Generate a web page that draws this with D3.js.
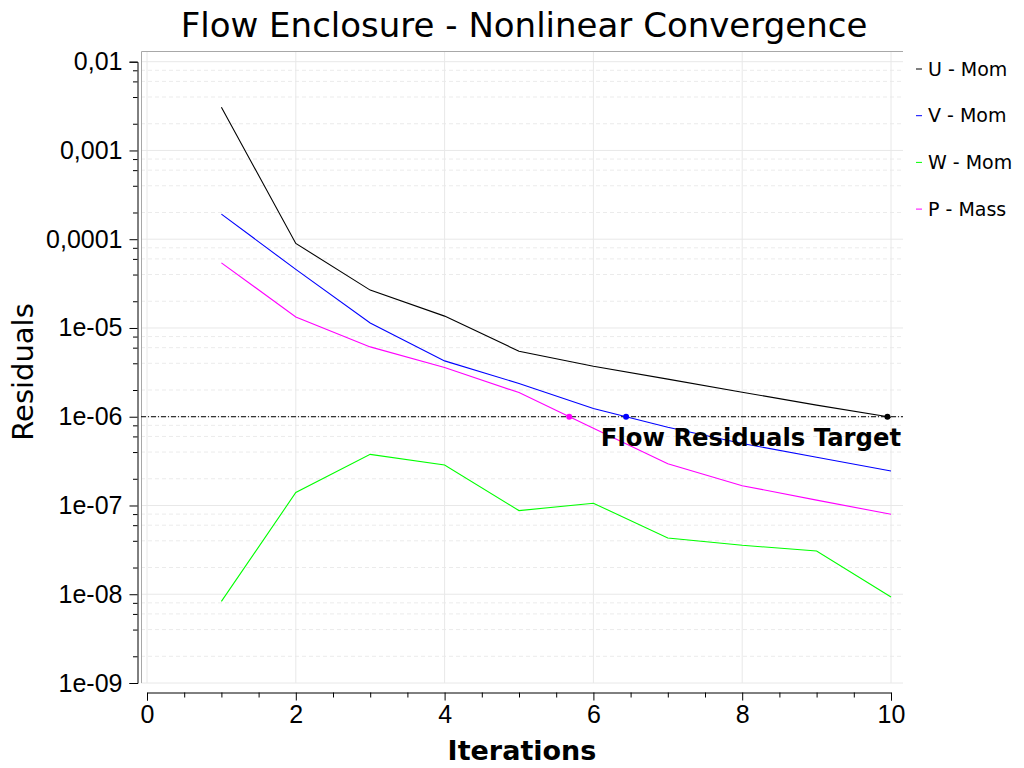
<!DOCTYPE html>
<html>
<head>
<meta charset="utf-8">
<script src="https://cdn.jsdelivr.net/npm/d3@7"></script>
<style>
  body { margin: 0; background: #fff; }
  svg { display: block; font-family: 'DejaVu Sans', sans-serif; }
</style>
</head>
<body>
<svg id="chart" width="1024" height="768"></svg>
<script>
'use strict'

// chart data
const iterations = [1, 2, 3, 4, 5, 6, 7, 8, 9, 10]
const uMom = [3.06e-3, 8.97e-5, 2.67e-5, 1.36e-5, 5.47e-6, 3.71e-6, 2.65e-6, 1.89e-6, 1.35e-6, 9.85e-7]
const vMom = [1.92e-4, 4.57e-5, 1.14e-5, 4.26e-6, 2.37e-6, 1.24e-6, 7.6e-7, 5.0e-7, 3.5e-7, 2.45e-7]
const wMom = [8.3e-9, 1.40e-7, 3.77e-7, 2.86e-7, 8.76e-8, 1.06e-7, 4.31e-8, 3.56e-8, 3.07e-8, 9.3e-9]
const pMass = [5.42e-5, 1.33e-5, 6.12e-6, 3.59e-6, 1.87e-6, 7.4e-7, 2.96e-7, 1.67e-7, 1.15e-7, 7.96e-8]
const target = 1e-6

const seriesNames = ['U - Mom', 'V - Mom', 'W - Mom', 'P - Mass']
const seriesColors = ['#000000', '#0000ff', '#00ff00', '#ff00ff']

const yTickValues = [1e-2, 1e-3, 1e-4, 1e-5, 1e-6, 1e-7, 1e-8, 1e-9]
const yTickLabels = ['0,01', '0,001', '0,0001', '1e-05', '1e-06', '1e-07', '1e-08', '1e-09']
const xTickLabels = [0, 2, 4, 6, 8, 10]

const series = [uMom, vMom, wMom, pMass].map((vals, i) => ({
  name: seriesNames[i],
  color: seriesColors[i],
  points: iterations.map((it, j) => ({ x: it, y: vals[j] }))
}))

const svg = d3.select('#chart')

// plot frame
const frame = { left: 141, right: 903, top: 51, bottom: 683 }

const x = d3.scaleLinear().domain([0, 10]).range([147, 891])
const y = d3.scaleLog().domain([1e-9, 0.0132]).range([frame.bottom, frame.top])

// minor positions inside each decade
const minorY = []
yTickValues.slice(1).forEach(d => {
  [2, 4, 6, 8].forEach(m => minorY.push(d * m))
})
const minorX = d3.range(0, 10.01, 0.5).filter(v => v % 2 !== 0)

const grid = svg.append('g')

grid.selectAll('.gy-minor')
  .data(minorY)
  .join('line')
  .attr('x1', frame.left).attr('x2', frame.right)
  .attr('y1', d => y(d)).attr('y2', d => y(d))
  .attr('stroke', '#ebebeb').attr('stroke-dasharray', '4,3')

grid.selectAll('.gy-major')
  .data(yTickValues)
  .join('line')
  .attr('x1', frame.left).attr('x2', frame.right)
  .attr('y1', d => y(d)).attr('y2', d => y(d))
  .attr('stroke', '#e8e8e8')

grid.selectAll('.gx')
  .data(xTickLabels)
  .join('line')
  .attr('x1', d => x(d)).attr('x2', d => x(d))
  .attr('y1', frame.top).attr('y2', frame.bottom)
  .attr('stroke', '#e8e8e8')

// frame edges
svg.append('path')
  .attr('d', `M${frame.left + 0.5},${frame.bottom}V${frame.top + 0.5}H${frame.right}`)
  .attr('fill', 'none').attr('stroke', '#a8a8a8')

// y axis
const yAxisScale = y.copy().domain([1e-9, 1e-2]).range([y(1e-9), y(1e-2)])
const yAxis = svg.append('g')
  .attr('transform', 'translate(137.5,0)')
  .call(d3.axisLeft(yAxisScale)
    .tickValues(yTickValues)
    .tickFormat((d, i) => yTickLabels[i])
    .tickSize(8)
    .tickPadding(7))
yAxis.selectAll('text').attr('font-size', 25).attr('fill', '#000')

svg.append('g')
  .attr('transform', 'translate(137.5,0)')
  .call(d3.axisLeft(yAxisScale).tickValues(minorY).tickFormat('').tickSize(4.5))
  .select('.domain').remove()

// x axis
const xAxisY = 692.5
const xAxis = svg.append('g')
  .attr('transform', `translate(0,${xAxisY})`)
  .call(d3.axisBottom(x)
    .tickValues(xTickLabels)
    .tickFormat(d3.format('d'))
    .tickSize(8)
    .tickPadding(5))
xAxis.selectAll('text').attr('font-size', 25).attr('fill', '#000')

svg.append('g')
  .attr('transform', `translate(0,${xAxisY})`)
  .call(d3.axisBottom(x).tickValues(minorX).tickFormat('').tickSize(5))
  .select('.domain').remove()

svg.selectAll('.domain, .tick line').attr('stroke', '#000')

// target line
svg.append('line')
  .attr('x1', frame.left).attr('x2', frame.right)
  .attr('y1', y(target)).attr('y2', y(target))
  .attr('stroke', '#000')
  .attr('stroke-dasharray', '5,2,1,2')

// series lines
const line = d3.line().x(d => x(d.x)).y(d => y(d.y))

svg.append('g')
  .selectAll('path')
  .data(series)
  .join('path')
  .attr('d', d => line(d.points))
  .attr('fill', 'none')
  .attr('stroke', d => d.color)
  .attr('stroke-width', 1.1)

// where each series first drops under the target (log interpolation)
function crossing (pts) {
  for (let i = 1; i < pts.length; i++) {
    const a = pts[i - 1]
    const b = pts[i]
    if (a.y >= target && b.y < target) {
      const t = (Math.log10(a.y) - Math.log10(target)) / (Math.log10(a.y) - Math.log10(b.y))
      return { x: a.x + t * (b.x - a.x), y: target }
    }
  }
  return null
}

const crossings = series
  .map(s => ({ color: s.color, c: crossing(s.points) }))
  .filter(d => d.c)

svg.append('g')
  .selectAll('circle')
  .data(crossings)
  .join('circle')
  .attr('cx', d => x(d.c.x))
  .attr('cy', d => y(d.c.y))
  .attr('r', 3)
  .attr('fill', d => d.color)

svg.append('text')
  .attr('x', 901)
  .attr('y', y(target) + 29)
  .attr('text-anchor', 'end')
  .attr('font-size', 24.3)
  .attr('font-weight', 'bold')
  .attr('fill', '#000')
  .text('Flow Residuals Target')

// legend
const legend = svg.append('g')
  .selectAll('g')
  .data(series)
  .join('g')
  .attr('transform', (d, i) => `translate(916,${69 + i * 46.7})`)

legend.append('line')
  .attr('x1', 0).attr('x2', 6)
  .attr('stroke', d => d.color)

legend.append('text')
  .attr('x', 12)
  .attr('dy', '0.35em')
  .attr('font-size', 19)
  .attr('fill', '#000')
  .text(d => d.name)

// titles
svg.append('text')
  .attr('x', 524)
  .attr('y', 37)
  .attr('text-anchor', 'middle')
  .attr('font-size', 34)
  .attr('fill', '#000')
  .text('Flow Enclosure - Nonlinear Convergence')

svg.append('text')
  .attr('x', 522)
  .attr('y', 760)
  .attr('text-anchor', 'middle')
  .attr('font-size', 27)
  .attr('font-weight', 'bold')
  .attr('fill', '#000')
  .text('Iterations')

svg.append('text')
  .attr('transform', `translate(33,${(frame.top + frame.bottom) / 2 + 5}) rotate(-90)`)
  .attr('text-anchor', 'middle')
  .attr('font-size', 29)
  .attr('fill', '#000')
  .text('Residuals')
</script>
</body>
</html>
